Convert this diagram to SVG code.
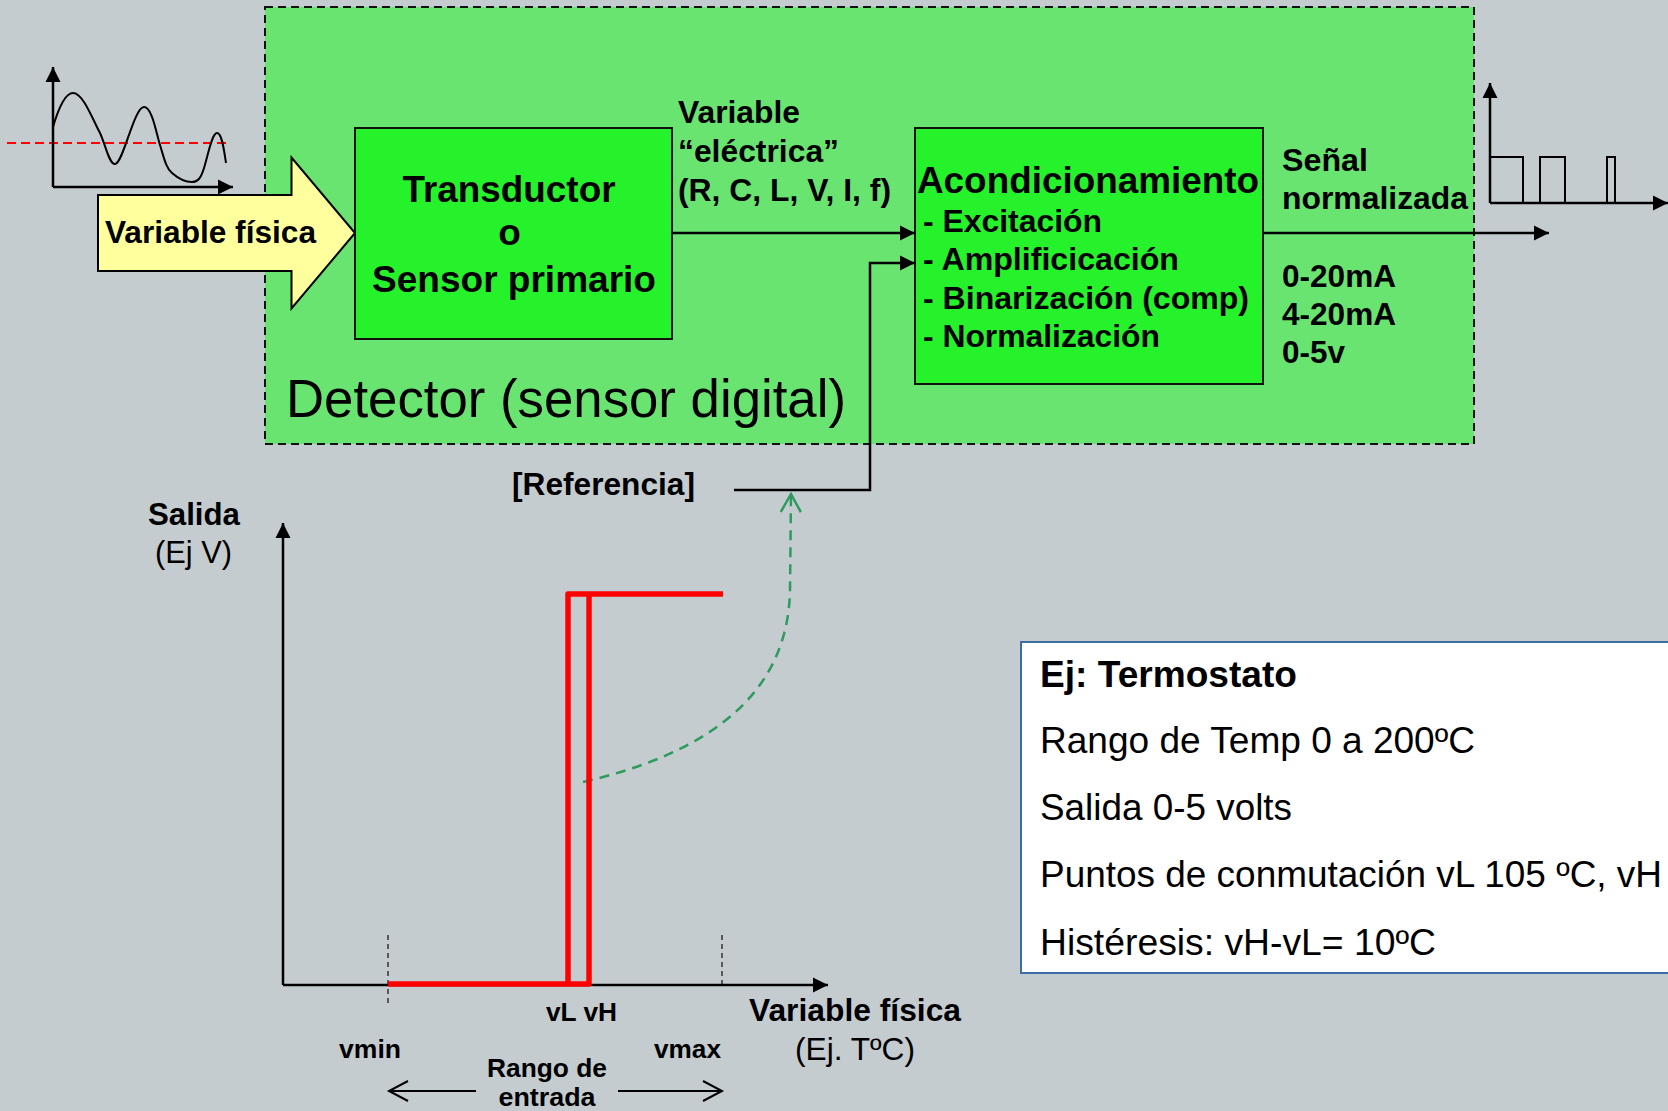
<svg xmlns="http://www.w3.org/2000/svg" width="1668" height="1111" viewBox="0 0 1668 1111">
  <defs>
    <style>
      .t { font-family: "Liberation Sans", Arial, sans-serif; fill: #000; }
      .b { font-weight: bold; }
      .ln { stroke: #000; stroke-width: 2.5; fill: none; }
      .thin { stroke: #000; stroke-width: 2; fill: none; }
      .tick { stroke: #333; stroke-width: 1.5; stroke-dasharray: 5 4; fill: none; }
    </style>
    <marker id="tri" markerUnits="userSpaceOnUse" markerWidth="16" markerHeight="16" refX="15" refY="7.5" orient="auto" overflow="visible">
      <path d="M0,0 L15,7.5 L0,15 z" fill="#000"/>
    </marker>
    <marker id="open" markerUnits="userSpaceOnUse" markerWidth="24" markerHeight="24" refX="20" refY="11" orient="auto" overflow="visible">
      <path d="M1,1 L20,11 L1,21" fill="none" stroke="#000" stroke-width="2"/>
    </marker>
    <marker id="openGreen" markerUnits="userSpaceOnUse" markerWidth="24" markerHeight="24" refX="19" refY="11" orient="auto" overflow="visible">
      <path d="M1,1 L19,11 L1,21" fill="none" stroke="#2E9A5E" stroke-width="2.5"/>
    </marker>
  </defs>

  <!-- background -->
  <rect x="0" y="0" width="1668" height="1111" fill="#C5CCD0"/>

  <!-- detector region -->
  <g id="detector">
    <rect x="265" y="7" width="1209" height="437" fill="#69E470" stroke="#111" stroke-width="2" stroke-dasharray="8 5"/>
    <text class="t" x="286" y="417" font-size="53" textLength="560" lengthAdjust="spacingAndGlyphs">Detector (sensor digital)</text>
  </g>

  <!-- input signal sketch -->
  <g id="input-signal">
    <line x1="7" y1="143" x2="230" y2="143" stroke="#FF0000" stroke-width="2" stroke-dasharray="9 5"/>
    <path class="thin" d="M53,127 C58,110 65,93 73,93 C83,93 92,118 100,133 C106,146 109,164 115,164 C123,164 134,107 144,107 C152,107 156,132 160,145 C164,158 166,168 172,173 C180,180 186,182 192,182 C198,182 201,178 204,168 C208,155 212,133 217,133 C222,133 224,150 226,163"/>
    <line class="ln" x1="53" y1="187" x2="53" y2="67" marker-end="url(#tri)"/>
    <line class="ln" x1="53" y1="187" x2="233" y2="187" marker-end="url(#tri)"/>
  </g>

  <!-- physical variable arrow -->
  <g id="variable-fisica">
    <path d="M98,195 H291.5 V157.5 L355,233 L291.5,308.5 V271 H98 Z" fill="#FFFF9E" stroke="#000" stroke-width="2"/>
    <text class="t b" x="105" y="243" font-size="31" textLength="211" lengthAdjust="spacingAndGlyphs">Variable física</text>
  </g>

  <!-- transducer -->
  <g id="transductor">
    <rect x="355" y="128" width="317" height="211" fill="#26F22B" stroke="#111" stroke-width="2"/>
    <text class="t b" x="509" y="202" font-size="37" text-anchor="middle" textLength="213" lengthAdjust="spacingAndGlyphs">Transductor</text>
    <text class="t b" x="509.5" y="245" font-size="37" text-anchor="middle">o</text>
    <text class="t b" x="514" y="292" font-size="37" text-anchor="middle" textLength="284" lengthAdjust="spacingAndGlyphs">Sensor primario</text>
  </g>

  <!-- electrical variable label -->
  <g id="variable-electrica">
    <text class="t b" x="678" y="123" font-size="31" textLength="122" lengthAdjust="spacingAndGlyphs">Variable</text>
    <text class="t b" x="678" y="162" font-size="31" textLength="161" lengthAdjust="spacingAndGlyphs">“eléctrica”</text>
    <text class="t b" x="678" y="201" font-size="31" textLength="213" lengthAdjust="spacingAndGlyphs">(R, C, L, V, I, f)</text>
  </g>

  <!-- conditioning -->
  <g id="acondicionamiento">
    <rect x="915" y="128" width="348" height="256" fill="#26F22B" stroke="#111" stroke-width="2"/>
    <text class="t b" x="917" y="193" font-size="37" textLength="342" lengthAdjust="spacingAndGlyphs">Acondicionamiento</text>
    <text class="t b" x="923" y="232" font-size="32" textLength="179" lengthAdjust="spacingAndGlyphs">- Excitación</text>
    <text class="t b" x="923" y="270" font-size="32" textLength="256" lengthAdjust="spacingAndGlyphs">- Amplificicación</text>
    <text class="t b" x="923" y="309" font-size="32" textLength="326" lengthAdjust="spacingAndGlyphs">- Binarización (comp)</text>
    <text class="t b" x="923" y="347" font-size="32" textLength="237" lengthAdjust="spacingAndGlyphs">- Normalización</text>
  </g>

  <!-- output labels -->
  <g id="salida-normalizada">
    <text class="t b" x="1282" y="171" font-size="32" textLength="86" lengthAdjust="spacingAndGlyphs">Señal</text>
    <text class="t b" x="1282" y="209" font-size="32" textLength="186" lengthAdjust="spacingAndGlyphs">normalizada</text>
    <text class="t b" x="1282" y="287" font-size="32" textLength="114" lengthAdjust="spacingAndGlyphs">0-20mA</text>
    <text class="t b" x="1282" y="325" font-size="32" textLength="114" lengthAdjust="spacingAndGlyphs">4-20mA</text>
    <text class="t b" x="1282" y="363" font-size="32" textLength="63" lengthAdjust="spacingAndGlyphs">0-5v</text>
  </g>

  <!-- output pulse sketch -->
  <g id="output-signal">
    <path d="M1490,203 V157 H1523 V203 M1540,203 V157 H1565 V203 M1607,203 V157 H1615 V203" fill="none" stroke="#000" stroke-width="2"/>
    <line class="ln" x1="1490" y1="203" x2="1490" y2="83" marker-end="url(#tri)"/>
    <line class="ln" x1="1490" y1="203" x2="1668" y2="203" marker-end="url(#tri)"/>
  </g>

  <!-- reference label -->
  <g id="referencia">
    <text class="t b" x="512" y="495" font-size="32" textLength="183" lengthAdjust="spacingAndGlyphs">[Referencia]</text>
  </g>

  <!-- connectors -->
  <g id="connectors">
    <line class="ln" x1="672" y1="233" x2="915" y2="233" marker-end="url(#tri)"/>
    <polyline class="ln" points="734,490 870,490 870,263 915,263" marker-end="url(#tri)"/>
    <line class="ln" x1="1263" y1="233" x2="1549" y2="233" marker-end="url(#tri)"/>
    <path d="M583,782 C700,755 788,700 790,590 L791,494" fill="none" stroke="#2E9A5E" stroke-width="2.5" stroke-dasharray="10 7" marker-end="url(#openGreen)"/>
  </g>

  <!-- hysteresis plot -->
  <g id="plot">
    <line class="tick" x1="388" y1="935" x2="388" y2="1003"/>
    <line class="tick" x1="722" y1="935" x2="722" y2="985"/>
    <line class="ln" x1="283" y1="985" x2="283" y2="523" marker-end="url(#tri)"/>
    <line class="ln" x1="283" y1="985" x2="828" y2="985" marker-end="url(#tri)"/>
    <path d="M388,984 H589 V594 H568 V984 M568,594 H723" fill="none" stroke="#FF0000" stroke-width="5.5" stroke-linejoin="round"/>
    <text class="t b" x="148" y="525" font-size="31" textLength="92" lengthAdjust="spacingAndGlyphs">Salida</text>
    <text class="t" x="155" y="563" font-size="31" textLength="77" lengthAdjust="spacingAndGlyphs">(Ej V)</text>
    <text class="t b" x="546" y="1021" font-size="26" textLength="71" lengthAdjust="spacingAndGlyphs">vL vH</text>
    <text class="t b" x="339" y="1058" font-size="26" textLength="62" lengthAdjust="spacingAndGlyphs">vmin</text>
    <text class="t b" x="654" y="1058" font-size="26" textLength="67" lengthAdjust="spacingAndGlyphs">vmax</text>
    <text class="t b" x="547" y="1077" font-size="26" text-anchor="middle" textLength="120" lengthAdjust="spacingAndGlyphs">Rango de</text>
    <text class="t b" x="547" y="1106" font-size="26" text-anchor="middle" textLength="97" lengthAdjust="spacingAndGlyphs">entrada</text>
    <line class="thin" x1="476" y1="1091" x2="389" y2="1091" marker-end="url(#open)"/>
    <line class="thin" x1="618" y1="1091" x2="722" y2="1091" marker-end="url(#open)"/>
    <text class="t b" x="749" y="1021" font-size="31" textLength="212" lengthAdjust="spacingAndGlyphs">Variable física</text>
    <text class="t" x="795" y="1060" font-size="31" textLength="120" lengthAdjust="spacingAndGlyphs">(Ej. TºC)</text>
  </g>

  <!-- thermostat example -->
  <g id="termostato">
    <rect x="1021" y="642" width="660" height="331" fill="#FFFFFF" stroke="#3A6EA5" stroke-width="2"/>
    <text class="t b" x="1040" y="687" font-size="36" textLength="257" lengthAdjust="spacingAndGlyphs">Ej: Termostato</text>
    <text class="t" x="1040" y="753" font-size="36" textLength="435" lengthAdjust="spacingAndGlyphs">Rango de Temp 0 a 200ºC</text>
    <text class="t" x="1040" y="820" font-size="36" textLength="252" lengthAdjust="spacingAndGlyphs">Salida 0-5 volts</text>
    <text class="t" x="1040" y="887" font-size="36" textLength="622" lengthAdjust="spacingAndGlyphs">Puntos de conmutación vL 105 ºC, vH</text>
    <text class="t" x="1040" y="955" font-size="36" textLength="396" lengthAdjust="spacingAndGlyphs">Histéresis: vH-vL= 10ºC</text>
  </g>
</svg>
